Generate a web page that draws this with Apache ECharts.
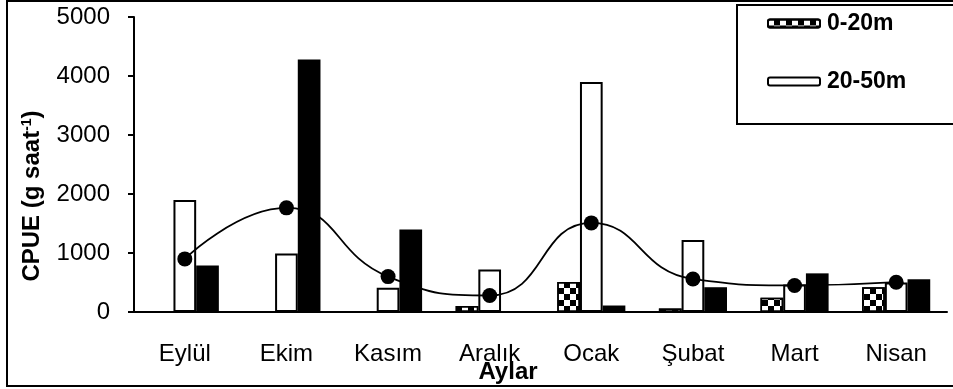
<!DOCTYPE html>
<html>
<head>
<meta charset="utf-8">
<script src="https://cdn.jsdelivr.net/npm/echarts@6/dist/echarts.min.js"></script>
<style>
html,body{margin:0;padding:0;background:#fff;}
#c{width:953px;height:389px;}
</style>
</head>
<body>
<div id="c"></div>
<script>
const categories = ['Eylül','Ekim','Kasım','Aralık','Ocak','Şubat','Mart','Nisan'];
const d0_20 = [0, 0, 0, 100, 510, 60, 240, 420];
const d20_50 = [1900, 990, 410, 720, 3900, 1220, 465, 500];
const d50 = [790, 4280, 1400, 0, 110, 420, 655, 555];
const meanVals = [900, 1765, 600, 280, 1510, 560, 450, 505];
const yTicks = {min: 0, max: 5000, interval: 1000};

const FONT = '"Liberation Sans", Arial, sans-serif';
const chart = echarts.init(document.getElementById('c'), null, {renderer: 'canvas'});
chart.setOption({
  animation: false,
  backgroundColor: '#fff',
  grid: {left: 134, right: 6, top: 17, bottom: 77},
  legend: {
    data: ['0-20m', '20-50m'],
    orient: 'vertical',
    left: 767, top: 12, padding: 0,
    itemWidth: 52, itemHeight: 8, itemGap: 35,
    textStyle: {fontFamily: FONT, fontSize: 23, fontWeight: 'bold', color: '#000', padding: [0,0,0,2]},
    selectedMode: false
  },
  xAxis: {
    type: 'category',
    data: categories,
    axisLine: {lineStyle: {color: '#000', width: 2}},
    axisTick: {length: 8, lineStyle: {color: '#000', width: 2}},
    axisLabel: {fontFamily: FONT, fontSize: 24, color: '#000', margin: 30}
  },
  yAxis: {
    type: 'value',
    min: yTicks.min, max: yTicks.max, interval: yTicks.interval,
    splitLine: {show: false},
    axisLine: {show: true, lineStyle: {color: '#000', width: 2}},
    axisTick: {show: true, length: 6, lineStyle: {color: '#000', width: 2}},
    axisLabel: {fontFamily: FONT, fontSize: 24, color: '#000', margin: 24, formatter: v => String(v)}
  },
  series: [
    {
      name: '0-20m', type: 'bar', data: d0_20,
      barGap: '0%', barCategoryGap: '33%',
      itemStyle: {
        color: '#fff', borderColor: '#000', borderWidth: 1.5,
        decal: {symbol: 'rect', symbolSize: 1, dashArrayX: [[6, 6], [0, 6, 6, 0]], dashArrayY: [6, 0], rotation: 0, color: '#000'}
      }
    },
    {
      name: '20-50m', type: 'bar', data: d20_50,
      itemStyle: {color: '#fff', borderColor: '#000', borderWidth: 2}
    },
    {
      name: '>50m', type: 'bar', data: d50,
      itemStyle: {color: '#000', borderColor: '#000', borderWidth: 0}
    },
    {
      name: 'Ortalama', type: 'line', data: meanVals, smooth: 0.5,
      symbol: 'circle', symbolSize: 15, z: 5,
      lineStyle: {color: '#000', width: 1.8},
      itemStyle: {color: '#000'}
    }
  ],
  graphic: [
    {type: 'rect', shape: {x: 7, y: 1, width: 980, height: 385}, style: {fill: 'none', stroke: '#000', lineWidth: 2}, silent: true},
    {type: 'rect', shape: {x: 737, y: 5, width: 260, height: 119}, style: {fill: 'none', stroke: '#000', lineWidth: 2}, silent: true},
    {type: 'text', x: 508, y: 372, style: {text: 'Aylar', fontFamily: FONT, fontSize: 24, fontWeight: 'bold', fill: '#000', align: 'center', verticalAlign: 'middle'}},
    {type: 'text', x: 32, y: 196, rotation: Math.PI / 2,
      style: {
        text: 'CPUE (g saat{sup|-1})',
        rich: {sup: {fontSize: 14, fontWeight: 'bold', fontFamily: FONT, fill: '#000', verticalAlign: 'top', padding: [0, 0, 10, 0]}},
        fontFamily: FONT, fontSize: 24, fontWeight: 'bold', fill: '#000', align: 'center', verticalAlign: 'middle'
      }}
  ]
});
</script>
</body>
</html>
